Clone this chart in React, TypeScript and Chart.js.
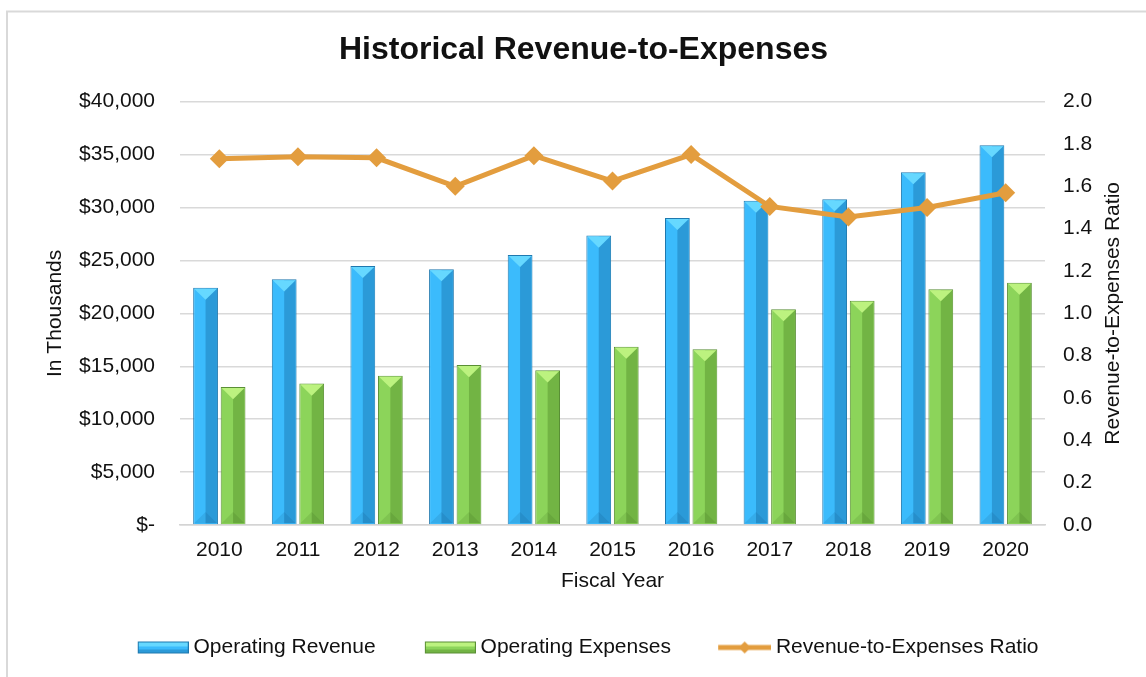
import { useEffect, useRef } from "react";
import { Chart, registerables } from "chart.js";

Chart.register(...registerables);

const FONT = '"Liberation Sans", Arial, Helvetica, sans-serif';

const years = ["2010", "2011", "2012", "2013", "2014", "2015", "2016", "2017", "2018", "2019", "2020"];
const operatingRevenue = [22430, 23220, 24480, 24170, 25520, 27350, 29020, 30650, 30790, 33340, 35890];
const operatingExpenses = [13040, 13360, 14110, 15120, 14620, 16850, 16610, 20390, 21200, 22280, 22900];
const revenueToExpensesRatio = [1.73, 1.74, 1.735, 1.6, 1.745, 1.625, 1.75, 1.505, 1.455, 1.5, 1.57];

const chartTitle = "Historical Revenue-to-Expenses";
const leftAxisTitle = "In Thousands";
const rightAxisTitle = "Revenue-to-Expenses Ratio";
const xAxisTitle = "Fiscal Year";
const seriesNames = ["Operating Revenue", "Operating Expenses", "Revenue-to-Expenses Ratio"];

const BLUE = { base: "#3bbbfc", dark: "#2b9ad8", cap: "#66d8ff", border: "#1f78ae", bottom: "rgba(0,40,80,0.10)" };
const GREEN = { base: "#8cd45a", dark: "#72b444", cap: "#bcf27f", border: "#5a8f35", bottom: "rgba(20,60,0,0.10)" };
const ORANGE = "#e39d3e";
const TEXT = "#111111";

function makeBarLegend(c: typeof BLUE): HTMLCanvasElement {
  const cv = document.createElement("canvas");
  cv.width = 66;
  cv.height = 20;
  const ctx = cv.getContext("2d")!;
  const x = 15, y = 4, w = 51, h = 12;
  ctx.fillStyle = c.base;
  ctx.fillRect(x, y, w, h);
  ctx.fillStyle = c.cap;
  ctx.fillRect(x + 1, y + 1, w - 2, 4);
  ctx.fillStyle = c.dark;
  ctx.fillRect(x + 1, y + h - 4, w - 2, 3);
  ctx.strokeStyle = c.border;
  ctx.lineWidth = 1;
  ctx.strokeRect(x + 0.5, y + 0.5, w - 1, h - 1);
  return cv;
}

function makeLineLegend(): HTMLCanvasElement {
  const cv = document.createElement("canvas");
  cv.width = 66;
  cv.height = 20;
  const ctx = cv.getContext("2d")!;
  ctx.strokeStyle = ORANGE;
  ctx.lineWidth = 5;
  ctx.beginPath();
  ctx.moveTo(13, 10);
  ctx.lineTo(66, 10);
  ctx.stroke();
  ctx.fillStyle = ORANGE;
  const cx = 39.5, cy = 10, r = 6;
  ctx.beginPath();
  ctx.moveTo(cx, cy - r);
  ctx.lineTo(cx + r, cy);
  ctx.lineTo(cx, cy + r);
  ctx.lineTo(cx - r, cy);
  ctx.closePath();
  ctx.fill();
  return cv;
}

const borderPlugin = {
  id: "outerBorder",
  beforeDraw(chart: any) {
    const ctx = chart.ctx;
    ctx.save();
    ctx.fillStyle = "#ffffff";
    ctx.fillRect(0, 0, chart.width, chart.height);
    ctx.strokeStyle = "#d9d9d9";
    ctx.lineWidth = 2;
    ctx.strokeRect(7, 11.5, chart.width + 50, chart.height + 50);
    ctx.restore();
  },
};

const bevelPlugin = {
  id: "bevel",
  afterDatasetDraw(chart: any, args: any) {
    const meta = args.meta;
    if (meta.type !== "bar") return;
    const c = args.index === 0 ? BLUE : GREEN;
    const ctx = chart.ctx;
    ctx.save();
    meta.data.forEach((el: any) => {
      const { x, y, base, width } = el.getProps(["x", "y", "base", "width"], true);
      const l = x - width / 2 + 1;
      const r = x + width / 2 - 1;
      const t = y + 1;
      const b = base - 1;
      const d = Math.min(width * 0.45, (b - t) / 2);
      // right (shaded) half
      ctx.fillStyle = c.dark;
      ctx.fillRect(x, t, r - x, b - t);
      // bottom bevel
      ctx.fillStyle = c.bottom;
      ctx.beginPath();
      ctx.moveTo(l, b);
      ctx.lineTo(r, b);
      ctx.lineTo(x, b - d);
      ctx.closePath();
      ctx.fill();
      // top cap
      ctx.fillStyle = c.cap;
      ctx.beginPath();
      ctx.moveTo(l, t);
      ctx.lineTo(r, t);
      ctx.lineTo(x, t + d);
      ctx.closePath();
      ctx.fill();
    });
    ctx.restore();
  },
};

const rightTitlePlugin = {
  id: "rightTitle",
  afterDraw(chart: any) {
    const s = chart.scales.y1;
    const area = chart.chartArea;
    const ctx = chart.ctx;
    ctx.save();
    ctx.translate(s.right - 11, (area.top + area.bottom) / 2);
    ctx.rotate(-Math.PI / 2);
    ctx.textAlign = "center";
    ctx.textBaseline = "middle";
    ctx.fillStyle = TEXT;
    ctx.font = `21px ${FONT}`;
    ctx.fillText(rightAxisTitle, 0, 0);
    ctx.restore();
  },
};

function formatDollars(v: number): string {
  if (v === 0) return "$-";
  return "$" + v.toLocaleString("en-US");
}

export default function App() {
  const ref = useRef<HTMLCanvasElement | null>(null);

  useEffect(() => {
    if (!ref.current) return;
    const legendImages = [makeBarLegend(BLUE), makeBarLegend(GREEN), makeLineLegend()];
    const chart = new Chart(ref.current, {
      type: "bar",
      data: {
        labels: years,
        datasets: [
          {
            type: "bar",
            label: seriesNames[0],
            data: operatingRevenue,
            backgroundColor: BLUE.base,
            borderColor: BLUE.border,
            borderWidth: 1,
            yAxisID: "y",
            order: 1,
            categoryPercentage: 0.7,
            barPercentage: 0.9,
          },
          {
            type: "bar",
            label: seriesNames[1],
            data: operatingExpenses,
            backgroundColor: GREEN.base,
            borderColor: GREEN.border,
            borderWidth: 1,
            yAxisID: "y",
            order: 1,
            categoryPercentage: 0.7,
            barPercentage: 0.9,
          },
          {
            type: "line",
            label: seriesNames[2],
            data: revenueToExpensesRatio,
            borderColor: ORANGE,
            backgroundColor: ORANGE,
            borderWidth: 5,
            pointStyle: "rectRot",
            pointRadius: 9.5,
            pointBorderWidth: 0,
            pointBackgroundColor: ORANGE,
            tension: 0,
            yAxisID: "y1",
            order: 0,
          },
        ] as any,
      },
      options: {
        responsive: false,
        animation: false,
        devicePixelRatio: 1,
        layout: { padding: { top: 11, left: 42.4, right: 21.4, bottom: 9 } },
        plugins: {
          title: {
            display: true,
            text: chartTitle,
            color: TEXT,
            font: { family: FONT, size: 32, weight: "bold", lineHeight: 1.2 },
            padding: { top: 19.5, bottom: 32.8 },
          },
          legend: {
            display: true,
            position: "bottom",
            labels: {
              usePointStyle: true,
              pointStyleWidth: 54.5,
              padding: 40,
              color: TEXT,
              font: { family: FONT, size: 21 },
              generateLabels: (c: any) =>
                c.data.datasets.map((ds: any, i: number) => ({
                  text: ds.label,
                  pointStyle: legendImages[i],
                  fillStyle: "rgba(0,0,0,0)",
                  strokeStyle: "rgba(0,0,0,0)",
                  lineWidth: 0,
                  hidden: false,
                  datasetIndex: i,
                  fontColor: TEXT,
                })),
            },
          },
          tooltip: { enabled: false },
        },
        scales: {
          x: {
            grid: { display: false, drawTicks: false },
            border: { display: true, color: "#d4d4d4", width: 1.5 },
            ticks: { color: TEXT, font: { family: FONT, size: 21 }, padding: 12.4, maxRotation: 0 },
            title: {
              display: true,
              text: xAxisTitle,
              color: TEXT,
              font: { family: FONT, size: 21 },
              padding: { top: 0, bottom: 2.7 },
            },
            afterFit: (scale: any) => {
              scale.height = 72;
            },
          },
          y: {
            position: "left",
            min: 0,
            max: 40000,
            ticks: {
              stepSize: 5000,
              color: TEXT,
              font: { family: FONT, size: 21 },
              padding: 25,
              callback: (v: any) => formatDollars(Number(v)),
            },
            grid: { color: "#d9d9d9", lineWidth: 1.5, drawTicks: false },
            border: { display: false },
            title: {
              display: true,
              text: leftAxisTitle,
              color: TEXT,
              font: { family: FONT, size: 21 },
              padding: { top: 0, bottom: 0 },
            },
            afterFit: (scale: any) => {
              scale.width = 137.6;
            },
          },
          y1: {
            position: "right",
            min: 0,
            max: 2,
            ticks: {
              stepSize: 0.2,
              color: TEXT,
              font: { family: FONT, size: 21 },
              padding: 18,
              callback: (v: any) => Number(v).toFixed(1),
            },
            grid: { display: false, drawTicks: false },
            border: { display: false },
            afterFit: (scale: any) => {
              scale.width = 79.6;
            },
          },
        },
      } as any,
      plugins: [borderPlugin, bevelPlugin, rightTitlePlugin],
    });
    return () => chart.destroy();
  }, []);

  return (
    <div style={{ position: "fixed", left: 0, top: 0, width: 1146, height: 677, overflow: "hidden", background: "#fff" }}>
      <canvas ref={ref} width={1146} height={677} style={{ display: "block", width: 1146, height: 677 }} />
    </div>
  );
}
